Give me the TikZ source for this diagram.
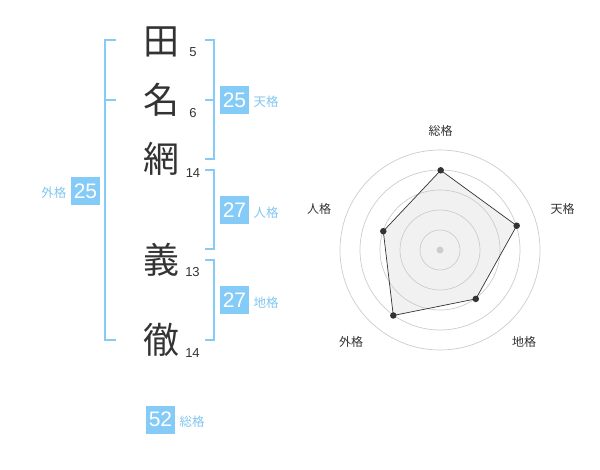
\documentclass[tikz,border=0pt]{standalone}
\usepackage{fontspec}
\setmainfont{Liberation Sans}
\newfontfamily\jpfont{Noto Sans CJK JP}
\definecolor{kblue}{RGB}{132,203,247}
\definecolor{klabel}{RGB}{128,198,240}
\definecolor{kdark}{RGB}{51,51,51}
\definecolor{kgrid}{RGB}{204,204,204}
\definecolor{kfill}{RGB}{240,240,240}
\tikzset{
  kanji/.style={inner sep=0pt, text=kdark, font=\jpfont\fontsize{36}{36}\selectfont},
  strokenum/.style={inner sep=0pt, text=kdark, font=\fontsize{13}{13}\selectfont},
  bracket/.style={draw=kblue, line width=2pt},
  numbox/.style={fill=kblue, text=white, minimum width=29pt, minimum height=28pt, inner sep=0pt, font=\fontsize{21}{21}\selectfont},
  kaku/.style={inner sep=0pt, text=klabel, font=\jpfont\fontsize{12.5}{12.5}\selectfont},
  axislabel/.style={inner sep=0pt, text=kdark, font=\jpfont\fontsize{12}{12}\selectfont},
  gridcircle/.style={draw=kgrid, line width=0.7pt},
  datapt/.style={circle, fill=kdark, inner sep=0pt, minimum size=6.5pt},
}
\begin{document}
\begin{tikzpicture}[x=1pt,y=-1pt]
\useasboundingbox (0,0) rectangle (600,470);
% Kanji
\node[kanji] (k1) at (161,42) {田};
\node[kanji] (k2) at (161,100) {名};
\node[kanji] (k3) at (161,159) {網};
\node[kanji] (k4) at (161,260) {義};
\node[kanji] (k5) at (161,340) {徹};
% stroke counts
\node[strokenum] (n1) at (193,52) {5};
\node[strokenum] (n2) at (193,113) {6};
\node[strokenum] (n3) at (193,173) {14};
\node[strokenum] (n4) at (192.5,272) {13};
\node[strokenum] (n5) at (192.5,353) {14};
% brackets
\draw[bracket] (116,40) -- (105,40) -- (105,340) -- (116,340);
\draw[bracket] (105,100) -- (116,100);
\draw[bracket] (205,40) -- (214,40) -- (214,159) -- (205,159);
\draw[bracket] (214,100) -- (205,100);
\draw[bracket] (205,170) -- (214,170) -- (214,249) -- (205,249);
\draw[bracket] (205,260) -- (214,260) -- (214,340) -- (205,340);
% boxes
\node[numbox] (b1) at (234.5,100.5) {25};
\node[kaku] (l1) at (266,102) {天格};
\node[numbox] (b2) at (234.5,210.5) {27};
\node[kaku] (l2) at (266,213) {人格};
\node[numbox] (b3) at (234.5,300.5) {27};
\node[kaku] (l3) at (266,303) {地格};
\node[numbox] (b4) at (85.5,191) {25};
\node[kaku] (l4) at (54,193) {外格};
\node[numbox] (b5) at (160.5,419.5) {52};
\node[kaku] (l5) at (192,422) {総格};
% radar
\coordinate (c) at (440,250);
\fill[kfill, opacity=0.9] (440.7,170.3) -- (516.7,225.7) -- (475.8,298.9) -- (393.3,315.5) -- (383.3,231.2) -- cycle;
\foreach \r in {20,40,60,80,100} \draw[gridcircle] (c) circle[radius=\r];
\fill[kgrid] (c) circle[radius=3.5];
\node[datapt] (p1) at (440.7,170.3) {};
\node[datapt] (p2) at (516.7,225.7) {};
\node[datapt] (p3) at (475.8,298.9) {};
\node[datapt] (p4) at (393.3,315.5) {};
\node[datapt] (p5) at (383.3,231.2) {};
\draw[kdark, line width=0.7pt] (p1.center) -- (p2.center) -- (p3.center) -- (p4.center) -- (p5.center) -- cycle;
\node[axislabel] (a1) at (440.5,130.5) {総格};
\node[axislabel] (a2) at (562.5,208.5) {天格};
\node[axislabel] (a3) at (524,342) {地格};
\node[axislabel] (a4) at (351,342) {外格};
\node[axislabel] (a5) at (319,208.5) {人格};
\end{tikzpicture}
\end{document}
